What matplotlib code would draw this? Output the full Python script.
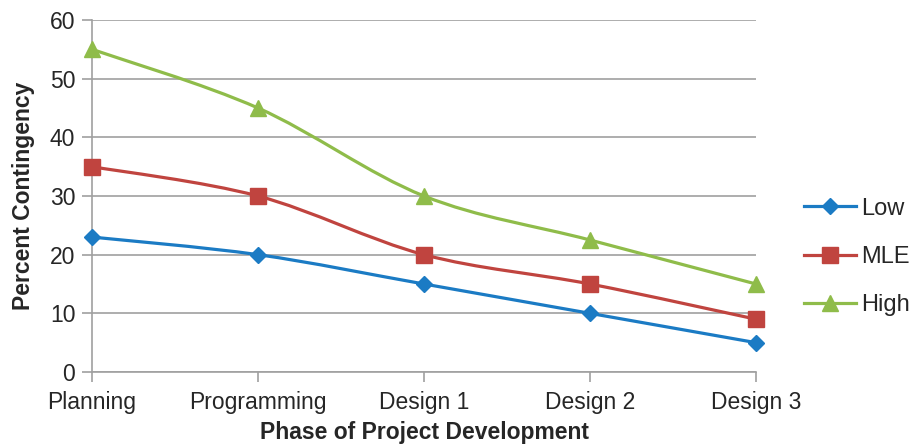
import matplotlib
matplotlib.use("Agg")
import matplotlib.pyplot as plt
from matplotlib.path import Path
from matplotlib.patches import PathPatch
from matplotlib.lines import Line2D
import numpy as np

plt.rcParams['font.family'] = ['Liberation Sans', 'DejaVu Sans']

categories = ["Planning", "Programming", "Design 1", "Design 2", "Design 3"]
low = [23, 20, 15, 10, 5]
mle = [35, 30, 20, 15, 9]
high = [55, 45, 30, 22.5, 15]
series_names = ["Low", "MLE", "High"]
colors = ["#1b7bc4", "#c0443f", "#8fbc4a"]
markers = ["D", "s", "^"]
msizes = [8.5, 11, 11]

fig = plt.figure(figsize=(9.16, 4.48), dpi=100)
ax = fig.add_axes([92/916, 1-372/448, (756-92)/916, (372-20)/448])

def smooth_path(xs, ys):
    pts = np.column_stack([xs, ys]).astype(float)
    n = len(pts)
    verts = [pts[0]]
    codes = [Path.MOVETO]
    for i in range(n - 1):
        p0 = pts[i - 1] if i > 0 else pts[i]
        p1 = pts[i]
        p2 = pts[i + 1]
        p3 = pts[i + 2] if i + 2 < n else pts[i + 1]
        c1 = p1 + (p2 - p0) / 6.0
        c2 = p2 - (p3 - p1) / 6.0
        verts += [c1, c2, p2]
        codes += [Path.CURVE4] * 3
    return Path(verts, codes)

x = np.arange(len(categories))
handles = []
for vals, name, c, m, ms in zip([low, mle, high], series_names, colors, markers, msizes):
    patch = PathPatch(smooth_path(x, vals), facecolor='none', edgecolor=c, lw=2.3, zorder=3, clip_on=False)
    ax.add_patch(patch)
    ax.plot(x, vals, linestyle='none', marker=m, color=c, markersize=ms, zorder=4, clip_on=False)
    handles.append(Line2D([0], [0], color=c, lw=2.3, marker=m, markersize=ms, label=name))

ax.set_xlim(0, len(categories) - 1)
ax.set_ylim(0, 60)
ax.set_yticks(range(0, 61, 10))
ax.set_xticks(x)
ax.set_xticklabels(categories)
ax.grid(axis='y', color='#a0a0a0', lw=1.2)
ax.set_axisbelow(True)
for s in ['top', 'right']:
    ax.spines[s].set_visible(False)
for s in ['left', 'bottom']:
    ax.spines[s].set_color('#a0a0a0')
    ax.spines[s].set_linewidth(1.2)
ax.tick_params(axis='both', colors='#a0a0a0', labelcolor='#262626', labelsize=16.5, width=1.2, length=7, direction='out')
ax.tick_params(axis='x', pad=7)
ax.tick_params(axis='y', pad=5)

ax.set_xlabel("Phase of Project Development", fontsize=16.5, fontweight='bold', color='#262626', labelpad=5)
ax.set_ylabel("Percent Contingency", fontsize=16.5, fontweight='bold', color='#262626', labelpad=11)

leg = fig.legend(handles=handles, loc='center left', bbox_to_anchor=(804/916, 1-257/448),
                 frameon=False, fontsize=17, handlelength=2.2, labelspacing=1.12,
                 handletextpad=0.2, borderaxespad=0, borderpad=0)
for t in leg.get_texts():
    t.set_color('#262626')

fig.savefig("out.png", dpi=100)
